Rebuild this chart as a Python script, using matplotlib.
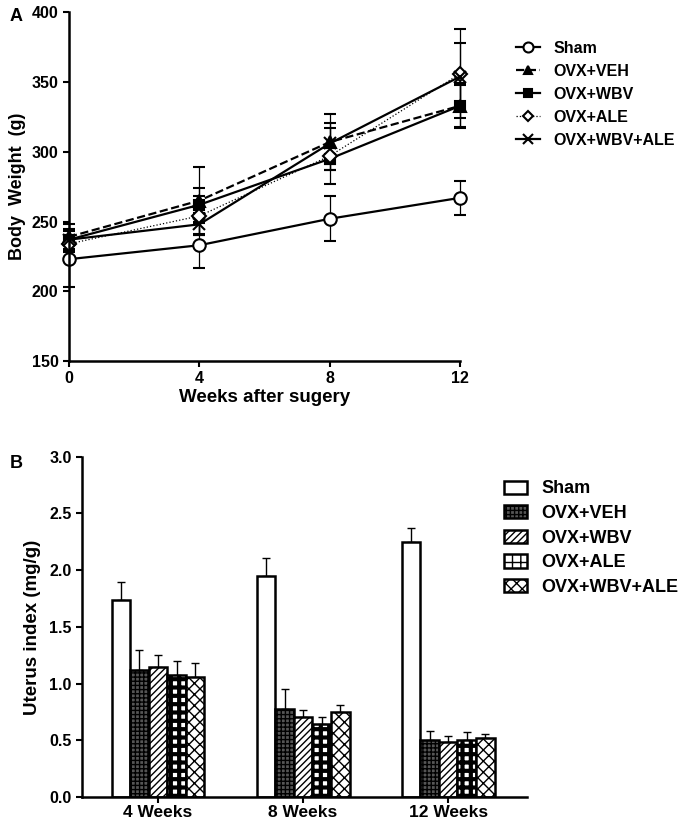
import numpy as np
import matplotlib
matplotlib.use('Agg')
import matplotlib.pyplot as plt

plt.rcParams['font.family'] = ['Liberation Sans', 'DejaVu Sans']
plt.rcParams['font.weight'] = 'bold'

# Panel A data
weeks = [0, 4, 8, 12]
groups = ['Sham', 'OVX+VEH', 'OVX+WBV', 'OVX+ALE', 'OVX+WBV+ALE']
bw_mean = {
    'Sham':        [223, 233, 252, 267],
    'OVX+VEH':     [239, 265, 307, 333],
    'OVX+WBV':     [237, 262, 295, 333],
    'OVX+ALE':     [234, 254, 297, 356],
    'OVX+WBV+ALE': [237, 248, 306, 354],
}
bw_sem = {
    'Sham':        [20, 16, 16, 12],
    'OVX+VEH':     [9, 24, 20, 16],
    'OVX+WBV':     [8, 12, 8, 15],
    'OVX+ALE':     [6, 14, 20, 32],
    'OVX+WBV+ALE': [7, 8, 15, 24],
}

# Panel B data
periods = ['4 Weeks', '8 Weeks', '12 Weeks']
ui_mean = {
    'Sham':        [1.74, 1.95, 2.25],
    'OVX+VEH':     [1.12, 0.78, 0.50],
    'OVX+WBV':     [1.15, 0.71, 0.49],
    'OVX+ALE':     [1.08, 0.64, 0.50],
    'OVX+WBV+ALE': [1.06, 0.75, 0.52],
}
ui_sem = {
    'Sham':        [0.16, 0.16, 0.12],
    'OVX+VEH':     [0.18, 0.17, 0.08],
    'OVX+WBV':     [0.10, 0.06, 0.05],
    'OVX+ALE':     [0.12, 0.07, 0.07],
    'OVX+WBV+ALE': [0.12, 0.06, 0.04],
}

fig = plt.figure(figsize=(6.85, 8.26), dpi=100)

# ---- Panel A ----
ax1 = fig.add_axes([0.1007, 0.563, 0.571, 0.422])
styles = {
    'Sham':        dict(ls='-', marker='o', mfc='white', ms=9, lw=1.6),
    'OVX+VEH':     dict(ls='--', marker='^', mfc='black', ms=8, lw=1.6),
    'OVX+WBV':     dict(ls='-', marker='s', mfc='black', ms=7, lw=1.6),
    'OVX+ALE':     dict(ls=':', marker='D', mfc='white', ms=7, lw=0.9),
    'OVX+WBV+ALE': dict(ls='-', marker='x', mfc='black', ms=9, lw=1.6),
}
handles = []
for g in groups:
    st = styles[g]
    eb = ax1.errorbar(weeks, bw_mean[g], yerr=bw_sem[g], color='black', ls=st['ls'],
                      lw=st['lw'], marker=st['marker'], mfc=st['mfc'], mec='black',
                      mew=1.5, ms=st['ms'], capsize=4, elinewidth=0.9, capthick=0.9,
                      clip_on=False, label=g)
    for art in eb.lines[1] + eb.lines[2]:
        art.set_clip_on(False)
    eb.lines[0].set_clip_on(False)
    handles.append(eb.lines[0])

ax1.set_xlim(0, 12)
ax1.set_ylim(150, 400)
ax1.set_xticks(weeks)
ax1.set_yticks(np.arange(150, 401, 50))
ax1.spines['top'].set_visible(False)
ax1.spines['right'].set_visible(False)
for s in ['left', 'bottom']:
    ax1.spines[s].set_linewidth(1.8)
ax1.tick_params(width=1.5, length=4, labelsize=11.5)
ax1.set_xlabel('Weeks after sugery', fontsize=13.5, fontweight='bold', labelpad=2)
ax1.set_ylabel('Body  Weight  (g)', fontsize=13, fontweight='bold', labelpad=4)
fig.legend(handles, groups, loc='upper left', bbox_to_anchor=(0.733, 0.968),
           frameon=False, handlelength=1.5, labelspacing=0.5, markerscale=0.8,
           handletextpad=0.8, prop={'weight': 'bold', 'size': 11.5})
fig.text(0.014, 0.975, 'A', fontsize=13, fontweight='bold')

# ---- Panel B ----
ax2 = fig.add_axes([0.1197, 0.035, 0.65, 0.412])
x = np.arange(len(periods))
width = 0.128
hatches = ['', '++++', '/////', '++', 'xxx']
bars = []
for i, g in enumerate(groups):
    pos = x + (i - 2) * width
    b = ax2.bar(pos, ui_mean[g], width, color='white', edgecolor='black', lw=1.8,
                hatch=hatches[i], label=g, zorder=2)
    ax2.errorbar(pos, ui_mean[g], yerr=[np.zeros(3), ui_sem[g]], fmt='none',
                 ecolor='black', elinewidth=1, capsize=3, capthick=1, zorder=1)
    if g == 'OVX+VEH':
        for p in b:
            p.set_facecolor('#555555')
    if g == 'OVX+ALE':
        for p in b:
            try:
                p.set_hatch_linewidth(3)
            except AttributeError:
                pass
    bars.append(b)

ax2.set_xlim(-0.524, 2.545)
ax2.set_ylim(0, 3.0)
ax2.set_xticks(x)
ax2.set_xticklabels(periods)
ax2.set_yticks(np.arange(0, 3.01, 0.5))
ax2.yaxis.set_major_formatter(matplotlib.ticker.FormatStrFormatter('%.1f'))
ax2.spines['top'].set_visible(False)
ax2.spines['right'].set_visible(False)
for s in ['left', 'bottom']:
    ax2.spines[s].set_linewidth(1.8)
ax2.tick_params(axis='y', width=1.5, length=4, labelsize=11.5)
ax2.tick_params(axis='x', width=1.5, length=4, labelsize=12.5, pad=2)
ax2.set_ylabel('Uterus index (mg/g)', fontsize=13.5, fontweight='bold', labelpad=6)
fig.legend(bars, groups, loc='upper left', bbox_to_anchor=(0.712, 0.438),
           frameon=False, handlelength=1.25, handleheight=0.75, labelspacing=0.42,
           handletextpad=0.8, prop={'weight': 'bold', 'size': 13})
fig.text(0.014, 0.433, 'B', fontsize=13, fontweight='bold')

fig.savefig('out.png', dpi=100)
